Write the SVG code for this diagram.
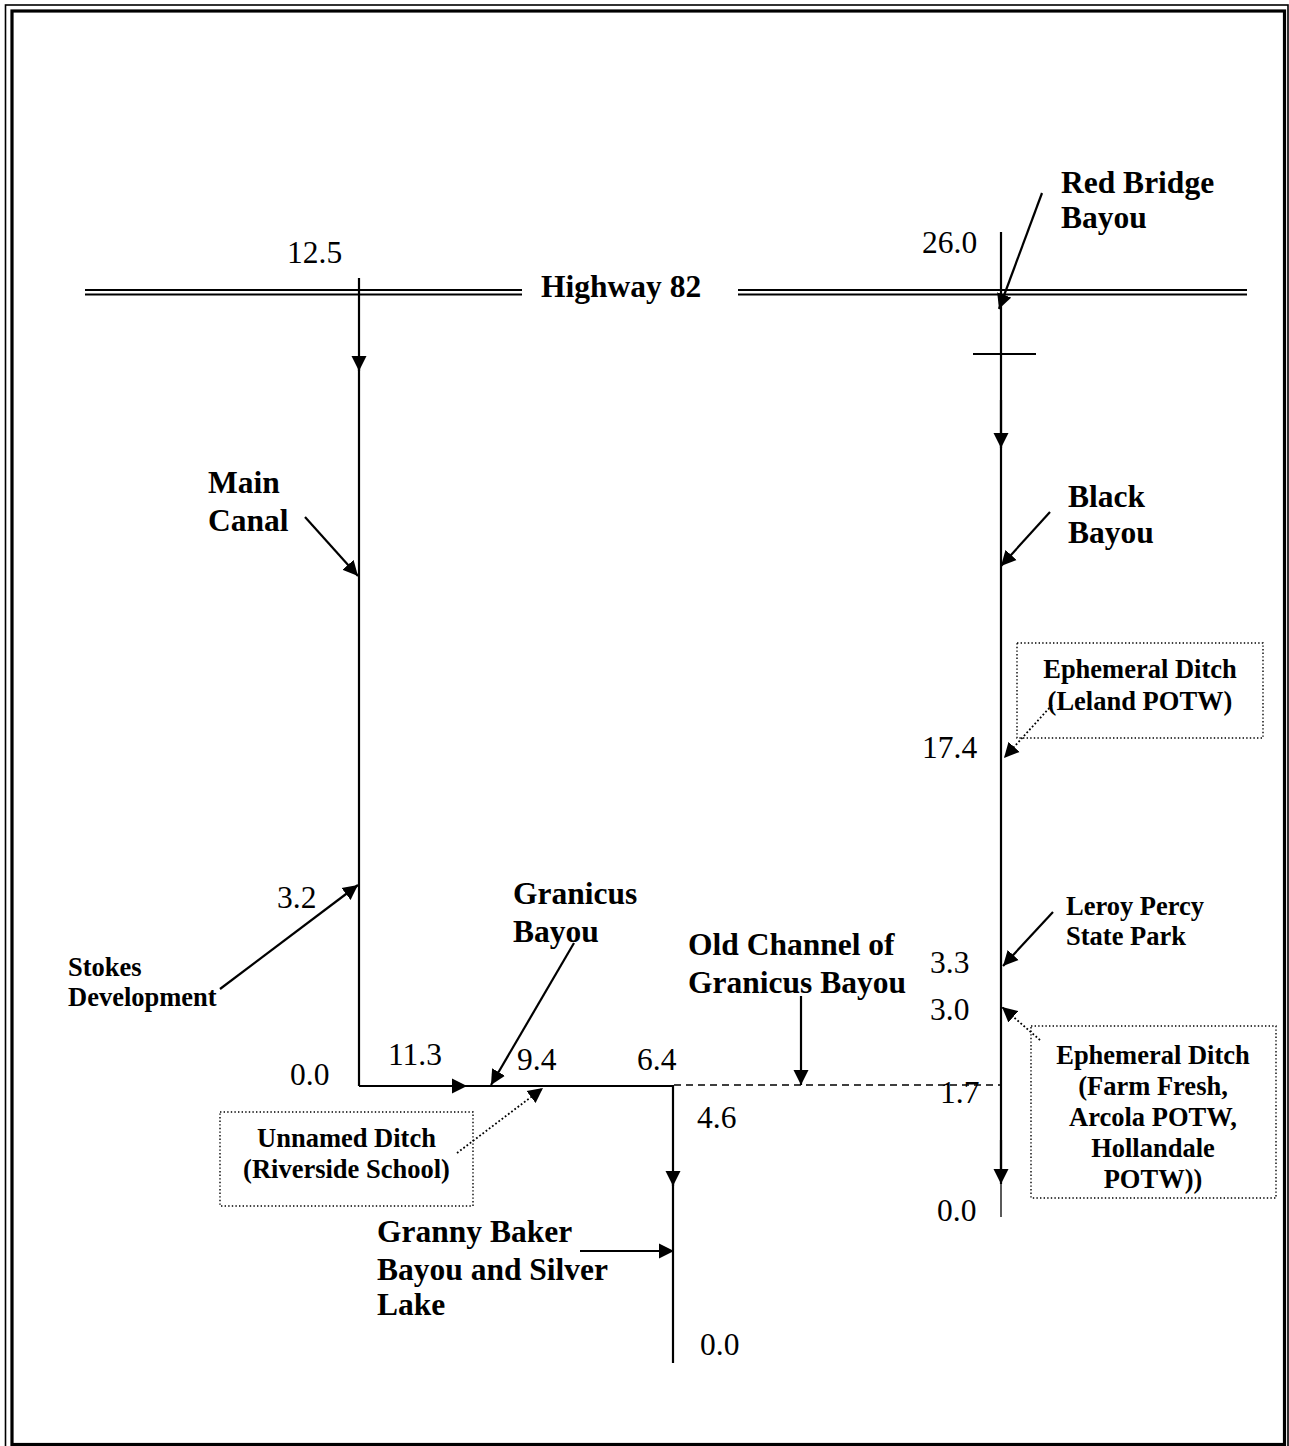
<svg xmlns="http://www.w3.org/2000/svg" width="1289" height="1446" viewBox="0 0 1289 1446">
<style>
.lb{font-family:"Liberation Serif","Times New Roman",serif;font-weight:bold;font-size:31.5px;fill:#000}
.sb{font-family:"Liberation Serif","Times New Roman",serif;font-weight:bold;font-size:26.5px;fill:#000}
.num{font-family:"Liberation Serif","Times New Roman",serif;font-size:31.5px;fill:#000}
.ln{stroke:#000;stroke-width:2.2;fill:none}
.arr{stroke:#000;stroke-width:2.2;fill:none;marker-end:url(#ah)}
.dotarr{stroke:#000;stroke-width:1.8;fill:none;stroke-dasharray:1.8 2.2;marker-end:url(#ah)}
.box{stroke:#000;stroke-width:1.4;fill:none;stroke-dasharray:1.4 2.2}
.hw{stroke:#000;stroke-width:2;fill:none}
</style>
<defs>
<marker id="ah" markerUnits="userSpaceOnUse" markerWidth="16" markerHeight="16" refX="15" refY="8" orient="auto" viewBox="0 0 16 16">
<path d="M0,0.5 L15,8 L0,15.5 z" fill="#000"/>
</marker>
</defs>
<rect x="0" y="0" width="1289" height="1446" fill="#fff"/>
<g id="frame">
<rect x="5.5" y="5" width="1282.5" height="1452" fill="none" stroke="#000" stroke-width="1.6"/>
<rect x="12" y="11" width="1272.5" height="1433.5" fill="none" stroke="#000" stroke-width="3.2"/>
</g>
<g id="connectors">
<path class="hw" d="M85,290 H522 M85,294.5 H522"/>
<path class="hw" d="M738,290 H1247 M738,294.5 H1247"/>
<path class="arr" d="M359,278 V371"/>
<path class="ln" d="M359,360 V1086"/>
<path class="arr" d="M305,517 L358,576"/>
<path class="arr" d="M220,989 L358,885"/>
<path class="arr" d="M359,1086 H467"/>
<path class="ln" d="M455,1086 H674"/>
<path class="arr" d="M574,943 L491,1085"/>
<path class="dotarr" d="M457,1153 L543,1088"/>
<path class="arr" d="M673,1086 V1186"/>
<path class="ln" d="M673,1175 V1363"/>
<path class="arr" d="M580,1251 H674"/>
<path d="M674,1085 H1001" stroke="#000" stroke-width="1.6" fill="none" stroke-dasharray="7 5"/>
<path class="arr" d="M801,996 V1085"/>
<path class="ln" d="M1001,232 V440"/>
<path class="ln" d="M973,354 H1036"/>
<path class="arr" d="M1001,400 V448"/>
<path class="arr" d="M1042,193 L999,309"/>
<path class="ln" d="M1001,440 V1175"/>
<path class="arr" d="M1001,1140 V1184"/>
<path d="M1001,1183 V1217" stroke="#000" stroke-width="1.3" fill="none"/>
<path class="arr" d="M1050,512 L1001,566"/>
<path class="dotarr" d="M1052,705 L1004,758"/>
<path class="arr" d="M1053,912 L1003,966"/>
<path class="dotarr" d="M1040,1040 L1002,1007"/>
</g>
<g id="highway82"><text class="lb" x="541" y="297">Highway 82</text></g>
<g id="n-main-canal"><text class="lb" x="208" y="493">Main</text><text class="lb" x="208" y="531">Canal</text></g>
<g id="n-stokes"><text class="sb" x="68" y="976">Stokes</text><text class="sb" x="68" y="1006">Development</text></g>
<g id="n-granicus"><text class="lb" x="513" y="904">Granicus</text><text class="lb" x="513" y="942">Bayou</text></g>
<g id="n-unnamed-ditch">
<rect class="box" x="220" y="1112" width="253" height="94"/>
<text class="sb" x="346.5" y="1147" text-anchor="middle">Unnamed Ditch</text>
<text class="sb" x="346.5" y="1178" text-anchor="middle">(Riverside School)</text>
</g>
<g id="n-old-channel"><text class="lb" x="688" y="955">Old Channel of</text><text class="lb" x="688" y="993">Granicus Bayou</text></g>
<g id="n-granny-baker"><text class="lb" x="377" y="1242">Granny Baker</text><text class="lb" x="377" y="1280">Bayou and Silver</text><text class="lb" x="377" y="1315">Lake</text></g>
<g id="n-red-bridge"><text class="lb" x="1061" y="193">Red Bridge</text><text class="lb" x="1061" y="228">Bayou</text></g>
<g id="n-black-bayou"><text class="lb" x="1068" y="507">Black</text><text class="lb" x="1068" y="543">Bayou</text></g>
<g id="n-leland">
<rect class="box" x="1017" y="643" width="246" height="95"/>
<text class="sb" x="1140" y="678" text-anchor="middle">Ephemeral Ditch</text>
<text class="sb" x="1140" y="710" text-anchor="middle">(Leland POTW)</text>
</g>
<g id="n-leroy"><text class="sb" x="1066" y="915">Leroy Percy</text><text class="sb" x="1066" y="945">State Park</text></g>
<g id="n-farm-fresh">
<rect class="box" x="1031" y="1026" width="245" height="172"/>
<text class="sb" x="1153" y="1064" text-anchor="middle">Ephemeral Ditch</text>
<text class="sb" x="1153" y="1095" text-anchor="middle">(Farm Fresh,</text>
<text class="sb" x="1153" y="1126" text-anchor="middle">Arcola POTW,</text>
<text class="sb" x="1153" y="1157" text-anchor="middle">Hollandale</text>
<text class="sb" x="1153" y="1188" text-anchor="middle">POTW))</text>
</g>
<g id="mileage">
<text class="num" x="287" y="263">12.5</text>
<text class="num" x="277" y="908">3.2</text>
<text class="num" x="290" y="1085">0.0</text>
<text class="num" x="388" y="1065">11.3</text>
<text class="num" x="517" y="1070">9.4</text>
<text class="num" x="637" y="1070">6.4</text>
<text class="num" x="697" y="1128">4.6</text>
<text class="num" x="700" y="1355">0.0</text>
<text class="num" x="922" y="253">26.0</text>
<text class="num" x="922" y="758">17.4</text>
<text class="num" x="930" y="973">3.3</text>
<text class="num" x="930" y="1020">3.0</text>
<text class="num" x="940" y="1103">1.7</text>
<text class="num" x="937" y="1221">0.0</text>
</g>
</svg>
